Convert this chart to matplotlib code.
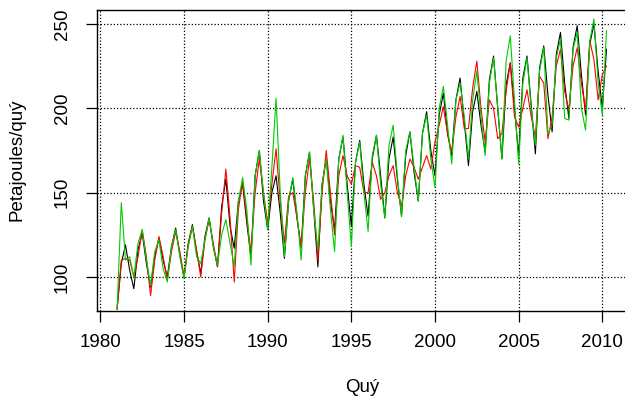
import numpy as np
import matplotlib
matplotlib.use("Agg")
import matplotlib.pyplot as plt

plt.rcParams['font.family'] = ['Liberation Sans', 'DejaVu Sans']

start_year = 1981
freq = 4

# Actual (black)
actual = [
    81, 108, 119, 104,
    93, 116, 126, 108,
    94, 112, 123, 110,
    100, 118, 129, 113,
    100, 120, 131, 115,
    102, 124, 135, 118,
    106, 142, 158, 130,
    117, 145, 155, 132,
    112, 160, 175, 145,
    128, 150, 160, 138,
    111, 145, 158, 135,
    117, 160, 174, 140,
    106, 155, 170, 145,
    128, 170, 183, 155,
    130, 168, 181, 155,
    136, 170, 184, 160,
    135, 170, 183, 158,
    136, 172, 186, 162,
    145, 185, 198, 175,
    160, 196, 209, 185,
    172, 205, 218, 192,
    166, 198, 210, 190,
    174, 217, 231, 200,
    170, 214, 227, 200,
    172, 218, 231, 202,
    173, 224, 237, 208,
    186, 232, 245, 215,
    194, 236, 249, 220,
    196, 238, 250, 222,
    200, 235,
]

# Red series
red_series = [
    81, 110, 111, 110,
    100, 112, 128, 112,
    89, 110, 124, 112,
    98, 115, 127, 115,
    100, 118, 130, 116,
    100, 122, 134, 120,
    106, 138, 164, 135,
    97, 140, 157, 135,
    115, 150, 170, 150,
    132, 155, 176, 145,
    120, 148, 150, 135,
    118, 150, 170, 145,
    110, 150, 175, 150,
    125, 160, 172, 160,
    155, 166, 165, 150,
    150, 168, 160, 146,
    150, 160, 166, 150,
    142, 160, 170, 165,
    158, 165, 172, 164,
    180, 190, 201, 185,
    174, 195, 207, 188,
    188, 212, 228, 200,
    180, 205, 200, 182,
    185, 210, 227, 195,
    189, 200, 211, 195,
    183, 219, 215, 182,
    195, 225, 235, 210,
    199, 225, 236, 215,
    199, 240, 229, 205,
    220, 225,
]

# Green series
green_series = [
    81, 144, 110, 112,
    100, 120, 128, 110,
    95, 115, 122, 105,
    97, 118, 128, 112,
    99, 119, 130, 112,
    108, 122, 135, 118,
    107, 125, 134, 120,
    106, 145, 159, 140,
    107, 160, 175, 150,
    128, 165, 206, 150,
    112, 145, 159, 138,
    110, 160, 174, 140,
    116, 155, 170, 140,
    115, 170, 184, 150,
    118, 168, 180, 150,
    127, 172, 184, 155,
    135, 178, 190, 160,
    136, 175, 186, 165,
    145, 185, 196, 170,
    153, 200, 213, 190,
    167, 205, 215, 195,
    170, 205, 222, 195,
    172, 215, 230, 200,
    170, 228, 243, 205,
    167, 215, 230, 200,
    178, 222, 236, 185,
    190, 230, 241, 194,
    193, 235, 245, 200,
    187, 240, 253, 215,
    196, 246,
]

x_ticks = [1980, 1985, 1990, 1995, 2000, 2005, 2010]
y_ticks = [100, 150, 200, 250]
x_label = "Quý"
y_label = "Petajoules/quý"

t = start_year + np.arange(len(actual)) / freq

fig = plt.figure(figsize=(6.25, 4.05), dpi=100)
ax = fig.add_axes([96.7 / 625, 1 - 311 / 405, (626.9 - 96.7) / 625, 301 / 405])

ax.plot(t, actual, color='black', lw=0.8)
ax.plot(t, red_series, color='#FF0000', lw=0.8)
ax.plot(t, green_series, color='#00CC00', lw=0.8)

ax.set_xlim(1979.78, 2011.47)
ax.set_ylim(79.8, 258.3)
ax.set_xticks(x_ticks)
ax.set_yticks(y_ticks)
ax.set_xticklabels([str(v) for v in x_ticks])
ax.set_yticklabels([str(v) for v in y_ticks], rotation=90, va='center')

ax.grid(True, color='black', linestyle=(0, (1, 1.6)), lw=0.9)
ax.set_axisbelow(True)

for sp in ax.spines.values():
    sp.set_color('black')
    sp.set_linewidth(1.0)

ax.tick_params(axis='both', direction='out', length=7.7, width=0.9,
               labelsize=13.5, colors='black')
ax.tick_params(axis='x', pad=9)
ax.tick_params(axis='y', pad=11)

fig.text(361.8 / 625, 1 - 388 / 405, x_label, ha='center', va='center', fontsize=13.5)
fig.text(17 / 625, 1 - 160 / 405, y_label, ha='center', va='center', fontsize=13.5, rotation=90)

fig.savefig("out.png", dpi=100)
